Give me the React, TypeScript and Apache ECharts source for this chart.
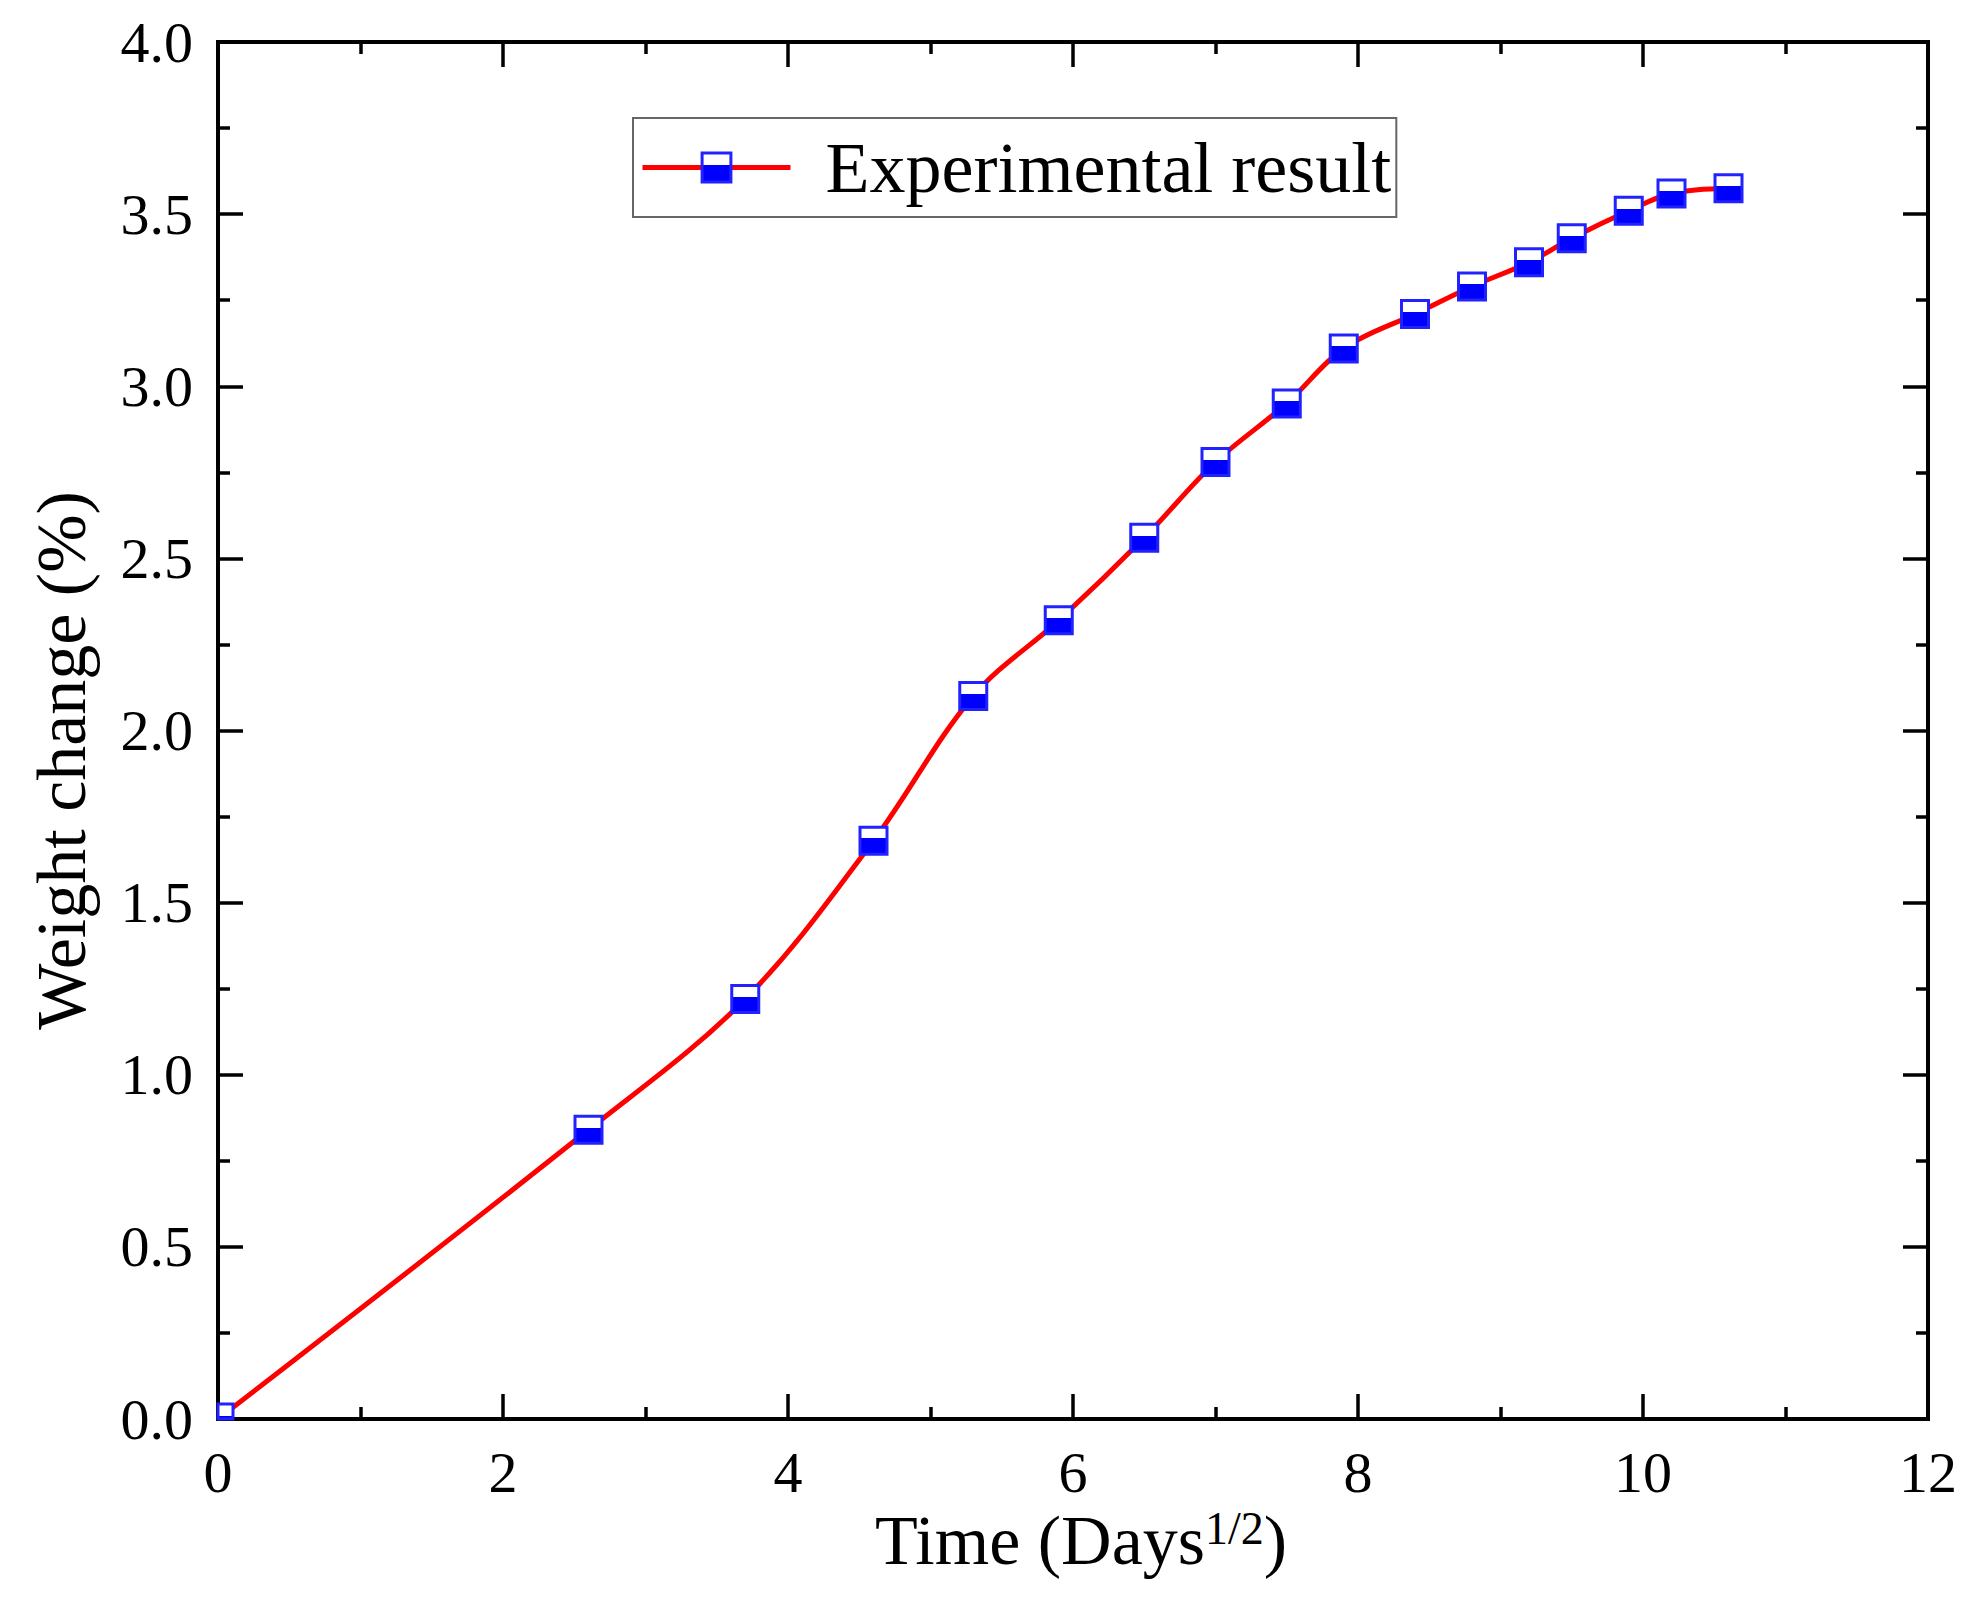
import React, { useEffect, useRef } from 'react';
import * as echarts from 'echarts';

// Time (Days^1/2)
const xValues = [0, 2.6, 3.7, 4.6, 5.3, 5.9, 6.5, 7.0, 7.5, 7.9, 8.4, 8.8, 9.2, 9.5, 9.9, 10.2, 10.6];
// Weight change (%)
const yValues = [0, 0.84, 1.22, 1.68, 2.1, 2.32, 2.56, 2.78, 2.95, 3.11, 3.21, 3.29, 3.36, 3.43, 3.51, 3.56, 3.575];

const seriesName = 'Experimental result';
const xAxisRange = [0, 12, 2]; // min, max, interval
const yAxisRange = [0, 4, 0.5];

const FONT = "'Liberation Serif', 'Times New Roman', serif";

export default function App() {
  const ref = useRef<HTMLDivElement>(null);

  useEffect(() => {
    if (!ref.current) return;
    const chart = echarts.init(ref.current, undefined, { renderer: 'svg' });

    const halfFill = (cut: number) =>
      new echarts.graphic.LinearGradient(0, 0, 0, 1, [
        { offset: 0, color: '#ffffff' },
        { offset: cut, color: '#ffffff' },
        { offset: cut, color: '#0000ff' },
        { offset: 1, color: '#0000ff' },
      ]);

    const data = xValues.map((x, i) => {
      if (i === 0) {
        return {
          value: [x, yValues[i]],
          symbolSize: 15,
          symbolOffset: [7.5, -7.5],
          itemStyle: { color: halfFill(0.8) },
        };
      }
      return { value: [x, yValues[i]] };
    });

    const tickStyle = { color: '#000', width: 3.5 };

    const xCommon = {
      type: 'value' as const,
      min: xAxisRange[0],
      max: xAxisRange[1],
      interval: xAxisRange[2],
      axisLine: { show: false, onZero: false },
      splitLine: { show: false },
      axisTick: { show: true, inside: true, length: 25, lineStyle: tickStyle },
      minorTick: { show: true, splitNumber: 2, length: 12, lineStyle: tickStyle },
    };
    const yCommon = {
      type: 'value' as const,
      min: yAxisRange[0],
      max: yAxisRange[1],
      interval: yAxisRange[2],
      axisLine: { show: false, onZero: false },
      splitLine: { show: false },
      axisTick: { show: true, inside: true, length: 25, lineStyle: tickStyle },
      minorTick: { show: true, splitNumber: 2, length: 12, lineStyle: tickStyle },
    };

    chart.setOption({
      animation: false,
      backgroundColor: '#ffffff',
      grid: {
        left: 218,
        right: 51,
        top: 42,
        bottom: 192,
        show: true,
        borderColor: '#000',
        borderWidth: 4,
        backgroundColor: 'transparent',
      },
      legend: {
        left: 633,
        top: 118,
        padding: [7, 5, 7, 7],
        borderColor: '#666',
        borderWidth: 2,
        borderRadius: 0,
        backgroundColor: '#fff',
        itemWidth: 148,
        itemHeight: 36,
        lineStyle: { color: '#ff0000', width: 5 },
        itemStyle: { borderColor: '#2222ff', borderWidth: 3 },
        textStyle: {
          fontSize: 72,
          fontFamily: FONT,
          color: '#000',
          lineHeight: 85,
          padding: [0, 0, 0, 30],
        },
        data: [seriesName],
      },
      xAxis: [
        {
          ...xCommon,
          position: 'bottom',
          name: '{a|Time (Days}{b|1/2}{a|)}',
          nameLocation: 'middle',
          nameGap: 82,
          nameTextStyle: {
            fontFamily: FONT,
            fontSize: 70,
            color: '#000',
            padding: [0, 0, 0, 16],
            rich: {
              a: { fontFamily: FONT, fontSize: 70, color: '#000' },
              b: { fontFamily: FONT, fontSize: 46, color: '#000', verticalAlign: 'top' },
            },
          },
          axisLabel: {
            show: true,
            margin: 24,
            fontFamily: FONT,
            fontSize: 58,
            color: '#000',
          },
        },
        {
          ...xCommon,
          position: 'top',
          axisLabel: { show: false },
        },
      ],
      yAxis: [
        {
          ...yCommon,
          position: 'left',
          name: 'Weight change (%)',
          nameLocation: 'middle',
          nameGap: 122,
          nameTextStyle: {
            fontFamily: FONT,
            fontSize: 70,
            color: '#000',
            padding: [0, 60, 0, 0],
          },
          axisLabel: {
            show: true,
            margin: 25,
            fontFamily: FONT,
            fontSize: 58,
            color: '#000',
            formatter: (v: number) => v.toFixed(1),
          },
        },
        {
          ...yCommon,
          position: 'right',
          axisLabel: { show: false },
        },
      ],
      series: [
        {
          name: seriesName,
          type: 'line',
          xAxisIndex: 0,
          yAxisIndex: 0,
          data,
          smooth: 0.35,
          symbol: 'rect',
          symbolSize: 27,
          lineStyle: { color: '#ff0000', width: 5 },
          itemStyle: {
            color: halfFill(0.42),
            borderColor: '#2222ff',
            borderWidth: 3,
          },
          z: 5,
        },
      ],
    });

    return () => {
      chart.dispose();
    };
  }, []);

  return (
    <div
      ref={ref}
      style={{ position: 'fixed', left: 0, top: 0, width: 1979, height: 1611 }}
    />
  );
}
